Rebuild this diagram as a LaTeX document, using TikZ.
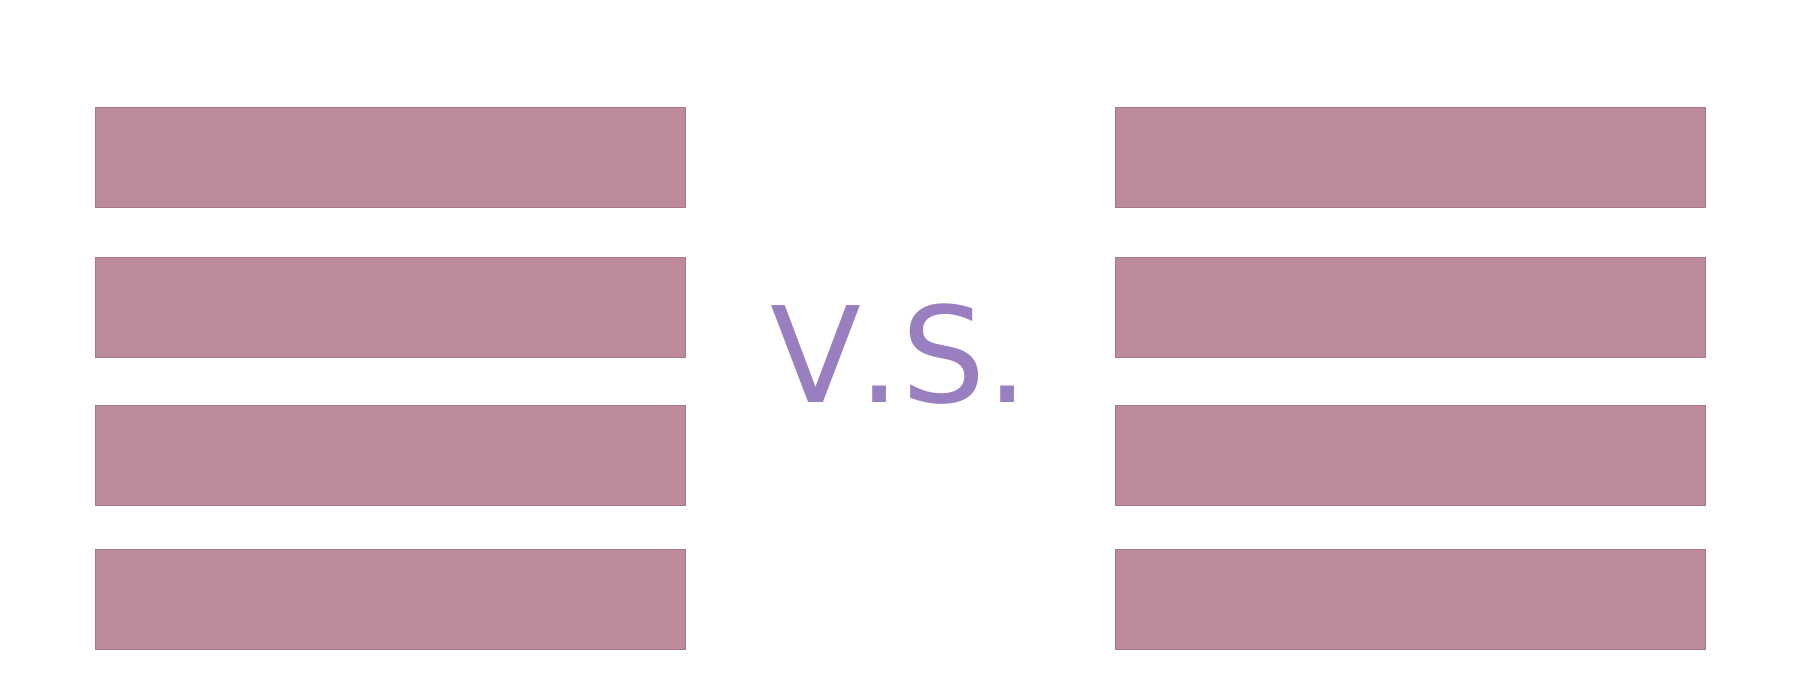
\documentclass[tikz,border=0pt]{standalone}
\usepackage{fontspec}
\newfontfamily\vsfont[Kerning=Off]{DejaVu Sans}
\definecolor{barcol}{HTML}{BC8A9B}
\definecolor{barline}{HTML}{A87888}
\definecolor{vscol}{HTML}{9A7FC0}
\begin{document}
\begin{tikzpicture}[x=1pt,y=-1pt,
  barbox/.style={fill=barcol,draw=barline,line width=0.6pt},
  vstext/.style={inner sep=0pt,anchor=base west,text=vscol,font=\vsfont\fontsize{133}{140}\selectfont}]
\useasboundingbox[fill=white] (0,0) rectangle (1800,700);
\foreach \t [count=\i] in {107,257,405,549} {
  \path[barbox] (95,\t) rectangle (685,\t+100) node[coordinate] (L\i) {};
  \path[barbox] (1115,\t) rectangle (1705,\t+100) node[coordinate] (R\i) {};
}
\node[vstext] (vs) at (770.6,402.7) {V\kern-3.5pt.\kern0.8pt S\kern0.7pt.};
\end{tikzpicture}
\end{document}
